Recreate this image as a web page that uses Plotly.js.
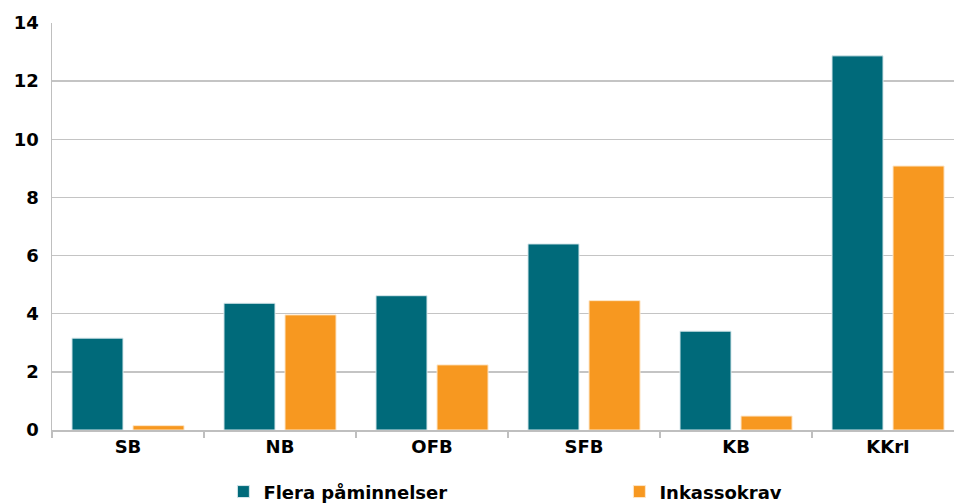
<!DOCTYPE html>
<html>
<head>
<meta charset="utf-8">
<script src="https://cdn.plot.ly/plotly-3.0.1.min.js"></script>
<style>html,body{margin:0;padding:0;background:#fff;}#chart{width:954px;height:504px;}</style>
</head>
<body>
<div id="chart"></div>
<script>
const categories = ["SB", "NB", "OFB", "SFB", "KB", "KKrI"];
const seriesNames = ["Flera påminnelser", "Inkassokrav"];
const flera = [3.16, 4.36, 4.62, 6.40, 3.40, 12.87];
const inkasso = [0.15, 3.96, 2.24, 4.45, 0.48, 9.08];
const yTicks = [0, 2, 4, 6, 8, 10, 12, 14];

const font = {family: "DejaVu Sans", size: 18, color: "#000", weight: "bold"};

const traces = [
  {type: "bar", name: seriesNames[0], x: categories, y: flera,
   marker: {color: "#006a7a", line: {color: "#d8e8ec", width: 1}}},
  {type: "bar", name: seriesNames[1], x: categories, y: inkasso,
   marker: {color: "#f79820", line: {color: "#fde6c8", width: 1}}}
];

const layout = {
  width: 954, height: 504,
  margin: {l: 52, r: 0, t: 23, b: 74, autoexpand: false},
  paper_bgcolor: "#fff", plot_bgcolor: "#fff",
  barmode: "group", bargap: 0.197, bargroupgap: 0.164,
  font: font,
  showlegend: true,
  legend: {orientation: "h", x: 0.19, xanchor: "left", y: -0.152, yanchor: "middle",
           entrywidth: 351, entrywidthmode: "pixels", font: font, itemwidth: 30},
  xaxis: {type: "category", range: [-0.5, 5.434], showgrid: false,
          showline: true, linecolor: "#bfbfbf", linewidth: 1.5,
          ticks: "outside", tickson: "boundaries", ticklen: 6, tickcolor: "#bfbfbf", tickwidth: 1.5,
          tickfont: font, fixedrange: true},
  yaxis: {range: [0, 14], tickvals: yTicks, ticktext: yTicks.map(String),
          showgrid: true, gridcolor: "#c4c4c4", gridwidth: 1.5,
          showline: true, linecolor: "#bfbfbf", linewidth: 1.5,
          zeroline: false, ticks: "", ticklabelstandoff: 8, tickfont: font, fixedrange: true}
};

Plotly.newPlot("chart", traces, layout, {displayModeBar: false, staticPlot: true});
</script>
</body>
</html>
